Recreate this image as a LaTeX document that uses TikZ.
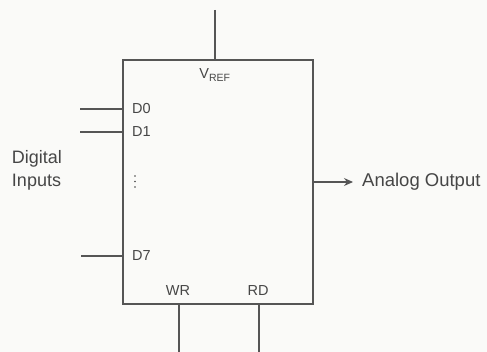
\documentclass[tikz,border=0pt]{standalone}
\usepackage{fontspec}
\setmainfont{Liberation Sans}
\usepackage{tikz}
\usetikzlibrary{arrows.meta,positioning,calc}
\definecolor{tinta}{RGB}{85,85,85}
\definecolor{letra}{RGB}{70,70,70}
\definecolor{fondo}{RGB}{250,250,248}
\tikzset{
  chip/.style={draw=tinta, line width=1.1pt, minimum width=190pt, minimum height=244pt, inner sep=0pt},
  pin/.style={tinta, line width=1.1pt},
  pinlbl/.style={font=\fontsize{14.5}{16}\selectfont, text=letra, inner sep=0pt},
  et/.style={font=\fontsize{18}{23}\selectfont, text=letra, align=left, inner sep=0pt},
  fl/.style={-{Stealth[length=9pt,width=8pt]}, line width=1.1pt, tinta},
}
\begin{document}
\begin{tikzpicture}[x=1pt,y=-1pt]
  \fill[fondo] (0,0) rectangle (487,352);
  \useasboundingbox (0,0) rectangle (487,352);
  % converter block
  \node[chip] (dac) at (218,182) {};
  % reference input
  \coordinate (vtop) at (215,10);
  \draw[pin] (vtop) -- (vtop |- dac.north);
  \node[pinlbl] (vref) at (215,75) {V\textsubscript{\fontsize{10.5}{12}\selectfont REF}};
  % data inputs
  \coordinate (d0in) at (80,109);
  \coordinate (d1in) at (80,132);
  \coordinate (d7in) at (81,256);
  \draw[pin] (d0in) -- (d0in -| dac.west);
  \draw[pin] (d1in) -- (d1in -| dac.west);
  \draw[pin] (d7in) -- (d7in -| dac.west);
  \node[pinlbl, anchor=west] (d0) at (132,109) {D0};
  \node[pinlbl, anchor=west] (d1) at (132,132) {D1};
  \node[pinlbl, anchor=west] (d7) at (132,256) {D7};
  \foreach \y in {176,181.5,187} \fill[letra] (135,\y) circle (0.9pt);
  \node[et] (dig) at (37,170) {Digital\\Inputs};
  % control pins
  \coordinate (wrout) at (179,352);
  \coordinate (rdout) at (259,352);
  \draw[pin] (wrout) -- (wrout |- dac.south);
  \draw[pin] (rdout) -- (rdout |- dac.south);
  \node[pinlbl] (wr) at (178,291) {WR};
  \node[pinlbl] (rd) at (258,291) {RD};
  % output
  \node[et, anchor=west, font=\fontsize{18.5}{20}\selectfont] (out) at (362,182) {Analog Output};
  \draw[fl, shorten >=9pt] (dac.east) -- (out.west);
\end{tikzpicture}
\end{document}
